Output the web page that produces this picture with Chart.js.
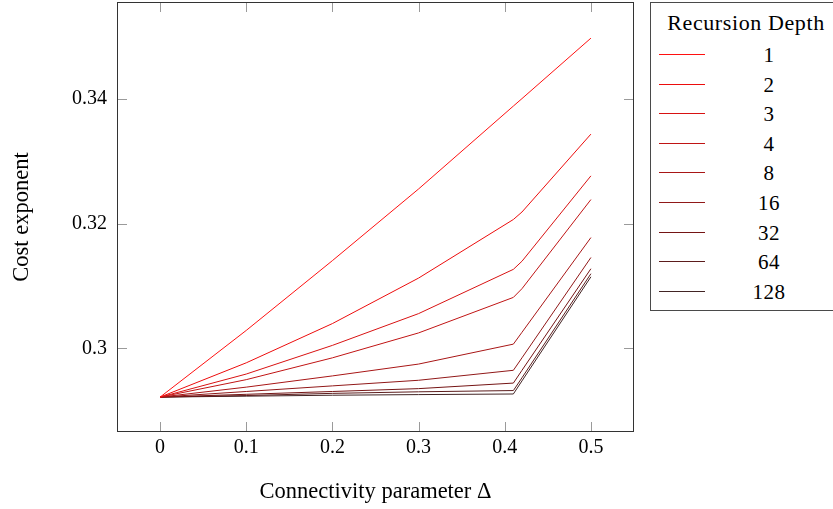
<!DOCTYPE html>
<html>
<head>
<meta charset="utf-8">
<script src="https://cdn.jsdelivr.net/npm/chart.js@4/dist/chart.umd.min.js"></script>
<style>
html,body{margin:0;padding:0;background:#fff;}
#wrap{position:relative;width:833px;height:509px;overflow:hidden;}
#legend{position:absolute;left:650px;top:2px;width:196px;height:309px;border:1px solid #4a4a4a;box-sizing:border-box;font-family:"Liberation Serif",serif;font-size:21px;color:#000;background:#fff;}
#legend .ttl{position:absolute;left:0;width:190px;top:8px;text-align:center;line-height:24px;white-space:nowrap;font-size:22px;letter-spacing:0.6px;}
#legend .row{position:absolute;left:0;width:196px;height:24px;}
#legend .smp{position:absolute;left:8px;width:46px;top:11px;height:1px;}
#legend .lab{position:absolute;left:68px;width:100px;top:0;text-align:center;line-height:24px;letter-spacing:0.5px;}
</style>
</head>
<body>
<div id="wrap">
<canvas id="c" width="833" height="509"></canvas>
<div id="legend"></div>
</div>
<script>
// ---- data ----
const legendTitle = 'Recursion Depth';
const depths = ['1', '2', '3', '4', '8', '16', '32', '64', '128'];
const deltas = [0, 0.1, 0.2, 0.3, 0.41, 0.42, 0.5];
const cost1   = [0.2922, 0.3029, 0.3141, 0.3256, 0.3389, 0.3401, 0.3498];
const cost2   = [0.2922, 0.2977, 0.3040, 0.3113, 0.3207, 0.3219, 0.3344];
const cost3   = [0.2922, 0.2959, 0.3005, 0.3056, 0.3127, 0.3140, 0.3277];
const cost4   = [0.2922, 0.2950, 0.2985, 0.3025, 0.3082, 0.3096, 0.3239];
const cost8   = [0.2922, 0.2938, 0.2956, 0.2975, 0.3007, 0.3026, 0.3178];
const cost16  = [0.2922, 0.2931, 0.2940, 0.2949, 0.2965, 0.2985, 0.3146];
const cost32  = [0.2922, 0.29265, 0.2931, 0.29356, 0.29445, 0.2965, 0.3128];
const cost64  = [0.2922, 0.29245, 0.2928, 0.29305, 0.29325, 0.2953, 0.3120];
const cost128 = [0.2922, 0.29235, 0.2925, 0.2926, 0.2927, 0.2948, 0.3115];
const xTicks = [0, 0.1, 0.2, 0.3, 0.4, 0.5];
const xTickLabels = ['0', '0.1', '0.2', '0.3', '0.4', '0.5'];
const yTicks = [0.30, 0.32, 0.34];
const yTickLabels = ['0.3', '0.32', '0.34'];
const xTitle = 'Connectivity parameter Δ';
const yTitle = 'Cost exponent';

const series = [cost1, cost2, cost3, cost4, cost8, cost16, cost32, cost64, cost128];
const colors = ['#ff1010', '#ec0c0c', '#d81212', '#c01414', '#a81616', '#901818', '#741414', '#5c1c1c', '#422424'];

const FONT = '"Liberation Serif", serif';
Chart.defaults.font.family = FONT;
Chart.defaults.font.size = 20;
Chart.defaults.color = '#000';

const framePlugin = {
  id: 'frame',
  afterDatasetsDraw(chart) {
    const {ctx, chartArea: {left, right, top, bottom}, scales: {x, y}} = chart;
    ctx.save();
    ctx.strokeStyle = '#9a9a9a';
    ctx.lineWidth = 1;
    ctx.beginPath();
    x.ticks.forEach(t => {
      const px = Math.round(x.getPixelForValue(t.value)) + 0.5;
      ctx.moveTo(px, bottom); ctx.lineTo(px, bottom - 10);
      ctx.moveTo(px, top); ctx.lineTo(px, top + 10);
    });
    y.ticks.forEach(t => {
      const py = Math.round(y.getPixelForValue(t.value)) + 0.5;
      ctx.moveTo(left, py); ctx.lineTo(left + 10, py);
      ctx.moveTo(right, py); ctx.lineTo(right - 10, py);
    });
    ctx.stroke();
    ctx.strokeStyle = '#333';
    ctx.strokeRect(left + 0.5, top + 0.5, right - left - 1, bottom - top - 1);
    ctx.restore();
  }
};

const chart = new Chart(document.getElementById('c'), {
  type: 'line',
  data: {
    datasets: depths.map((d, i) => ({
      label: d,
      data: deltas.map((xv, j) => ({x: xv, y: series[i][j]})),
      borderColor: colors[i],
      backgroundColor: colors[i],
      borderWidth: 1,
      pointRadius: 0,
      tension: 0,
      fill: false
    }))
  },
  options: {
    responsive: false,
    animation: false,
    devicePixelRatio: 1,
    layout: {padding: {top: 2, right: 199, left: 0, bottom: 0}},
    plugins: {legend: {display: false}, tooltip: {enabled: false}},
    scales: {
      x: {
        type: 'linear', min: -0.05, max: 0.55,
        afterBuildTicks: s => { s.ticks = xTicks.map(v => ({value: v})); },
        afterFit: s => { s.height = 77; s.paddingLeft = 0; s.paddingRight = 0; },
        grid: {display: false, drawTicks: false},
        border: {display: false},
        ticks: {padding: 4, color: '#000', font: {size: 20}, callback: (v, i) => xTickLabels[i]},
        title: {display: true, text: xTitle, color: '#000', font: {size: 22.5}, padding: {top: 0, bottom: 3}}
      },
      y: {
        type: 'linear', min: 0.2866, max: 0.3556,
        afterBuildTicks: s => { s.ticks = yTicks.map(v => ({value: v})); },
        afterFit: s => { s.width = 117; s.paddingTop = 0; s.paddingBottom = 0; },
        grid: {display: false, drawTicks: false},
        border: {display: false},
        ticks: {padding: 10, color: '#000', font: {size: 20}, callback: (v, i) => yTickLabels[i]},
        title: {display: true, text: yTitle, color: '#000', font: {size: 22.5}, padding: {top: 9, bottom: 0}}
      }
    }
  },
  plugins: [framePlugin]
});

// HTML legend built from the chart datasets
const lg = document.getElementById('legend');
const t = document.createElement('div');
t.className = 'ttl'; t.textContent = legendTitle; lg.appendChild(t);
chart.data.datasets.forEach((ds, i) => {
  const r = document.createElement('div');
  r.className = 'row';
  r.style.top = Math.round(40 + i * 29.62) + 'px';
  const s = document.createElement('div');
  s.className = 'smp'; s.style.background = ds.borderColor;
  const l = document.createElement('div');
  l.className = 'lab'; l.textContent = ds.label;
  r.appendChild(s); r.appendChild(l); lg.appendChild(r);
});
</script>
</body>
</html>
